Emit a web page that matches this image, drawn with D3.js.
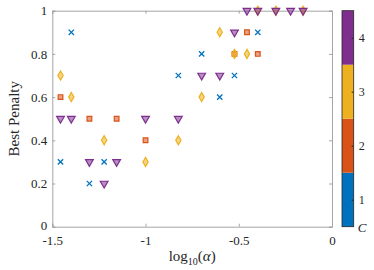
<!DOCTYPE html>
<html>
<head>
<meta charset="utf-8">
<script src="https://cdn.jsdelivr.net/npm/d3@7"></script>
<style>
  body { margin: 0; background: #fff; }
  svg text { font-family: "Liberation Serif", "DejaVu Serif", serif; fill: #262626; }
</style>
</head>
<body>
<div id="chart"></div>
<script>
// log10(alpha) and best penalty for each class C
const c1X = [-1.456, -1.398, -1.301, -1.222, -0.824, -0.699, -0.602, -0.523, -0.398];
const c1Y = [0.3, 0.9, 0.2, 0.3, 0.7, 0.8, 0.6, 0.7, 0.9];
const c2X = [-1.456, -1.301, -1.155, -1.0, -0.523, -0.456, -0.398];
const c2Y = [0.6, 0.5, 0.5, 0.4, 0.8, 0.9, 0.8];
const c3X = [-1.456, -1.398, -1.222, -1.0, -0.824, -0.699, -0.602, -0.523, -0.456, -0.398, -0.301, -0.155];
const c3Y = [0.7, 0.6, 0.4, 0.3, 0.4, 0.6, 0.9, 0.8, 0.8, 1, 1, 1];
const c4X = [-1.456, -1.398, -1.301, -1.222, -1.155, -1.0, -0.824, -0.699, -0.602, -0.523, -0.456, -0.398, -0.301, -0.222, -0.155];
const c4Y = [0.5, 0.5, 0.3, 0.2, 0.3, 0.5, 0.5, 0.7, 0.7, 0.9, 1, 1, 1, 1, 1];

const classes = [1, 2, 3, 4];
const classColors = ["#0072BD", "#D95319", "#EDB120", "#7E2F8E"];
const xTicks = [-1.5, -1, -0.5, 0];
const yTicks = [0, 0.2, 0.4, 0.6, 0.8, 1];

const width = 374, height = 270;
const margin = { top: 10.7, right: 42, bottom: 43.3, left: 52.3 };

const svg = d3.select("#chart").append("svg")
  .attr("width", width)
  .attr("height", height);

const x = d3.scaleLinear().domain([-1.5, 0]).range([margin.left, width - margin.right]);
const y = d3.scaleLinear().domain([0, 1]).range([height - margin.bottom, margin.top]);

const axisColor = "#a6a6a6";

// axes (ticks inside, box on)
const gx = svg.append("g")
  .attr("transform", "translate(0," + y(0) + ")")
  .call(d3.axisBottom(x).tickValues(xTicks).tickSize(-3).tickPadding(6)
    .tickFormat(d => d === 0 ? "0" : String(d)));
const gxt = svg.append("g")
  .attr("transform", "translate(0," + y(1) + ")")
  .call(d3.axisTop(x).tickValues(xTicks).tickSize(-3).tickFormat(""));
const gy = svg.append("g")
  .attr("transform", "translate(" + x(-1.5) + ",0)")
  .call(d3.axisLeft(y).tickValues(yTicks).tickSize(-3).tickPadding(5)
    .tickFormat(d => d === 0 || d === 1 ? String(d) : d3.format(".1f")(d)));
const gyr = svg.append("g")
  .attr("transform", "translate(" + x(0) + ",0)")
  .call(d3.axisRight(y).tickValues(yTicks).tickSize(-3).tickFormat(""));

[gx, gxt, gy, gyr].forEach(g => {
  g.selectAll("path, line").attr("stroke", axisColor);
  g.selectAll("text").style("font-size", "13px").attr("fill", "#262626");
});
gx.selectAll("text").attr("dy", "0.95em");
gy.selectAll("text").filter(d => d === 0).attr("dy", "0.2em");

// labels
svg.append("text")
  .attr("transform", "translate(19," + (y(0.5)) + ") rotate(-90)")
  .attr("text-anchor", "middle")
  .style("font-size", "15px")
  .text("Best Penalty");

const xl = svg.append("text")
  .attr("x", x(-0.75))
  .attr("y", 261)
  .attr("text-anchor", "middle")
  .style("font-size", "15px");
xl.append("tspan").text("log");
xl.append("tspan").attr("dy", 4).style("font-size", "10px").text("10");
xl.append("tspan").attr("dy", -4).text("(");
xl.append("tspan").style("font-style", "italic").text("α");
xl.append("tspan").text(")");

// markers
const series = [
  { c: 1, xs: c1X, ys: c1Y, sym: d3.symbolTimes, size: 20, rot: 0 },
  { c: 2, xs: c2X, ys: c2Y, sym: d3.symbolSquare, size: 22, rot: 0 },
  { c: 3, xs: c3X, ys: c3Y, sym: d3.symbolDiamond, size: 24, rot: 0 },
  { c: 4, xs: c4X, ys: c4Y, sym: d3.symbolTriangle, size: 26, rot: 180 }
];

series.forEach(s => {
  const col = classColors[s.c - 1];
  const pts = s.xs.map((v, i) => ({ x: v, y: s.ys[i] }));
  svg.append("g").selectAll("path")
    .data(pts)
    .enter()
    .append("path")
    .attr("d", d3.symbol().type(s.sym).size(s.size))
    .attr("transform", d => "translate(" + x(d.x) + "," + y(d.y) + ") rotate(" + s.rot + ")")
    .attr("fill", s.c === 1 ? "none" : col)
    .attr("fill-opacity", 0.55)
    .attr("stroke", col)
    .attr("stroke-width", s.c === 1 ? 1.3 : 1.2);
});

// colorbar
const cbX = 342, cbW = 11.7;
const cb = d3.scaleLinear().domain([0.5, 4.5]).range([y(0), y(1)]);
svg.append("g").selectAll("rect")
  .data(classes)
  .enter()
  .append("rect")
  .attr("x", cbX)
  .attr("y", d => cb(d + 0.5))
  .attr("width", cbW)
  .attr("height", d => cb(d - 0.5) - cb(d + 0.5))
  .attr("fill", d => classColors[d - 1]);
svg.append("rect")
  .attr("x", cbX).attr("y", y(1))
  .attr("width", cbW).attr("height", y(0) - y(1))
  .attr("fill", "none").attr("stroke", "#262626").attr("stroke-width", 0.8);

const gcb = svg.append("g")
  .attr("transform", "translate(" + (cbX + cbW) + ",0)")
  .call(d3.axisRight(cb).tickValues(classes).tickSize(-2).tickPadding(5).tickFormat(d3.format("d")));
gcb.select(".domain").remove();
gcb.selectAll("line").attr("stroke", "#262626");
gcb.selectAll("text").style("font-size", "12px").attr("fill", "#262626");

svg.append("text")
  .attr("x", cbX + cbW + 4)
  .attr("y", y(0) + 5)
  .style("font-size", "13px")
  .style("font-style", "italic")
  .text("C");
</script>
</body>
</html>
